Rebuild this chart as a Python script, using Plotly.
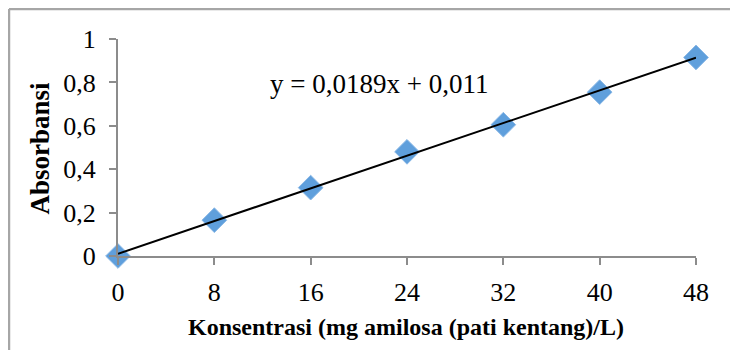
import numpy as np
import plotly.graph_objects as go

konsentrasi = [0, 8, 16, 24, 32, 40, 48]
absorbansi = [0.0, 0.165, 0.315, 0.48, 0.605, 0.755, 0.915]
x_ticks = [0, 8, 16, 24, 32, 40, 48]
y_ticks = [0, 0.2, 0.4, 0.6, 0.8, 1.0]
y_ticklabels = ["0", "0,2", "0,4", "0,6", "0,8", "1"]
equation = "y = 0,0189x + 0,011"
x_title = "Konsentrasi (mg amilosa (pati kentang)/L)"
y_title = "Absorbansi"

slope, intercept = np.polyfit(konsentrasi, absorbansi, 1)
fit_x = [min(konsentrasi), max(konsentrasi)]
fit_y = [slope * v + intercept for v in fit_x]

FONT = "Liberation Serif, Times New Roman, serif"
AX = "#8c8c8c"
BORDER = "#a6a6a6"

fig = go.Figure()
fig.add_trace(go.Scatter(
    x=konsentrasi, y=absorbansi, mode="markers",
    marker=dict(symbol="diamond", size=19, color="#5f9fdc",
                line=dict(color="#8ab8e6", width=1)),
    cliponaxis=False, showlegend=False))
fig.add_trace(go.Scatter(
    x=fit_x, y=fit_y, mode="lines",
    line=dict(color="black", width=2),
    cliponaxis=False, showlegend=False))

fig.update_layout(
    width=738, height=350,
    margin=dict(l=110, r=50, t=31, b=102),
    paper_bgcolor="white", plot_bgcolor="white",
    font=dict(family=FONT, size=26, color="black"),
    xaxis=dict(range=[0, 48], tickvals=x_ticks, ticktext=[str(v) for v in x_ticks],
               showgrid=False, zeroline=False, showline=True, linecolor=AX, linewidth=2,
               ticks="outside", ticklen=7, tickwidth=2, tickcolor=AX,
               ticklabelstandoff=5),
    yaxis=dict(range=[0, 1], tickvals=y_ticks, ticktext=y_ticklabels,
               showgrid=False, zeroline=False, showline=True, linecolor=AX, linewidth=2,
               ticks="outside", ticklen=7, tickwidth=2, tickcolor=AX,
               ticklabelstandoff=8),
    annotations=[
        dict(x=0.4516, y=0.793, xref="paper", yref="paper", text=equation,
             showarrow=False, xanchor="center", yanchor="middle",
             font=dict(family=FONT, size=27, color="black")),
        dict(x=0.498, y=-0.327, xref="paper", yref="paper", text="<b>" + x_title + "</b>",
             showarrow=False, xanchor="center", yanchor="middle",
             font=dict(family=FONT, size=24, color="black")),
        dict(x=-0.135, y=0.5, xref="paper", yref="paper", text="<b>" + y_title + "</b>",
             showarrow=False, xanchor="center", yanchor="middle", textangle=-90,
             font=dict(family=FONT, size=27, color="black")),
    ],
    shapes=[
        dict(type="line", xref="paper", yref="paper", x0=-0.1886, x1=-0.1886, y0=-0.45, y1=1.138,
             line=dict(color=BORDER, width=2.5)),
        dict(type="line", xref="paper", yref="paper", x0=-0.1886, x1=1.08, y0=1.138, y1=1.138,
             line=dict(color=BORDER, width=2.5)),
    ],
)

fig.write_html("out.html")
